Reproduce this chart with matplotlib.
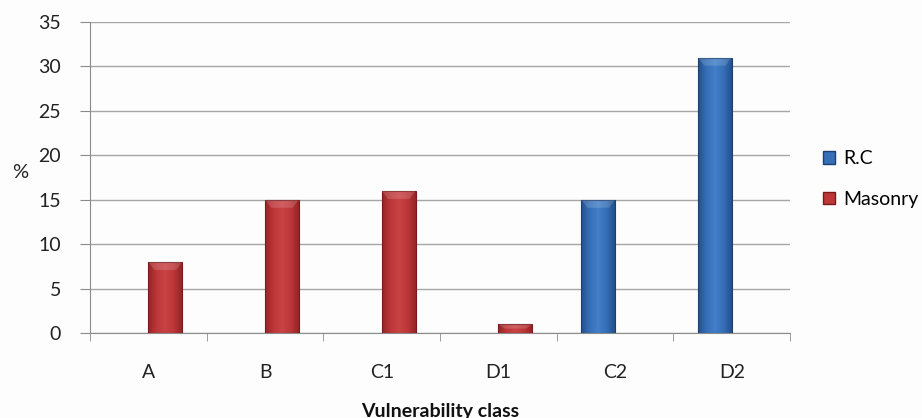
import numpy as np
import matplotlib.pyplot as plt
from matplotlib.colors import LinearSegmentedColormap
from matplotlib.patches import Patch

# === Data ===
categories = ["A", "B", "C1", "D1", "C2", "D2"]
rc_values = [0, 0, 0, 0, 15, 31]
masonry_values = [8, 15, 16, 1, 0, 0]
series_names = ["R.C", "Masonry"]
y_ticks = [0, 5, 10, 15, 20, 25, 30, 35]

plt.rcParams['font.family'] = ['Lato', 'DejaVu Sans']

fig = plt.figure(figsize=(9.22, 4.18), dpi=100, facecolor='#fdfdfd')
ax = fig.add_axes([0.0976, 0.2033, 0.7594, 0.744])
ax.set_facecolor('#fdfdfd')

x = np.arange(len(categories))
width = 0.29

red_cmap = LinearSegmentedColormap.from_list('red', ['#962527', '#bd3739', '#c94345', '#bd3739', '#962527'])
blue_cmap = LinearSegmentedColormap.from_list('blue', ['#23518c', '#366fb8', '#4280c9', '#366fb8', '#23518c'])
grad = np.linspace(0, 1, 64).reshape(1, -1)


def gradient_bars(bars, cmap, edge):
    for b in bars:
        h = b.get_height()
        if h <= 0:
            continue
        x0 = b.get_x()
        w = b.get_width()
        b.set_facecolor('none')
        b.set_edgecolor(edge)
        b.set_linewidth(0.8)
        im = ax.imshow(grad, cmap=cmap, aspect='auto', extent=[x0, x0 + w, 0, h], zorder=2)
        im.set_clip_path(b)
        # bevelled top highlight
        cap = min(0.9, h * 0.5)
        ax.fill([x0, x0 + w, x0 + w * 0.82, x0 + w * 0.18], [h, h, h - cap, h - cap],
                color='white', alpha=0.15, zorder=3, lw=0)


rc_bars = ax.bar(x - width / 2, rc_values, width, zorder=3)
ms_bars = ax.bar(x + width / 2, masonry_values, width, zorder=3)
gradient_bars(rc_bars, blue_cmap, '#1c4070')
gradient_bars(ms_bars, red_cmap, '#7a1a1c')

ax.set_xlim(-0.5, len(categories) - 0.5)
ax.set_ylim(0, 35)
ax.set_yticks(y_ticks)
ax.yaxis.grid(True, color='#a6a6a6', lw=1)
ax.set_axisbelow(True)

ax.set_xticks(x)
ax.set_xticklabels(categories)
ax.set_xticks(np.arange(len(categories) + 1) - 0.5, minor=True)
ax.tick_params(axis='x', which='major', length=0, pad=22, labelsize=14, colors='#222222')
ax.tick_params(axis='x', which='minor', length=6, color='#8c8c8c', direction='out')
ax.tick_params(axis='y', length=7, color='#8c8c8c', pad=14, labelsize=14, labelcolor='#222222')

for s in ['top', 'right']:
    ax.spines[s].set_visible(False)
ax.spines['left'].set_color('#8c8c8c')
ax.spines['bottom'].set_color('#8c8c8c')

ax.set_xlabel("Vulnerability class", fontsize=14, fontweight='bold', labelpad=16, color='#111111')
fig.text(0.022, 0.588, "%", fontsize=14.5, ha='center', va='center', color='#222222')

handles = [Patch(facecolor='#366fb8', edgecolor='#1c4070'),
           Patch(facecolor='#bd3739', edgecolor='#7a1a1c')]
fig.legend(handles, series_names, loc='center left', bbox_to_anchor=(0.874, 0.572),
           frameon=False, fontsize=14, handlelength=0.6, handleheight=0.6,
           handletextpad=0.45, labelspacing=1.2)

fig.savefig('out.png', dpi=100, facecolor=fig.get_facecolor())
